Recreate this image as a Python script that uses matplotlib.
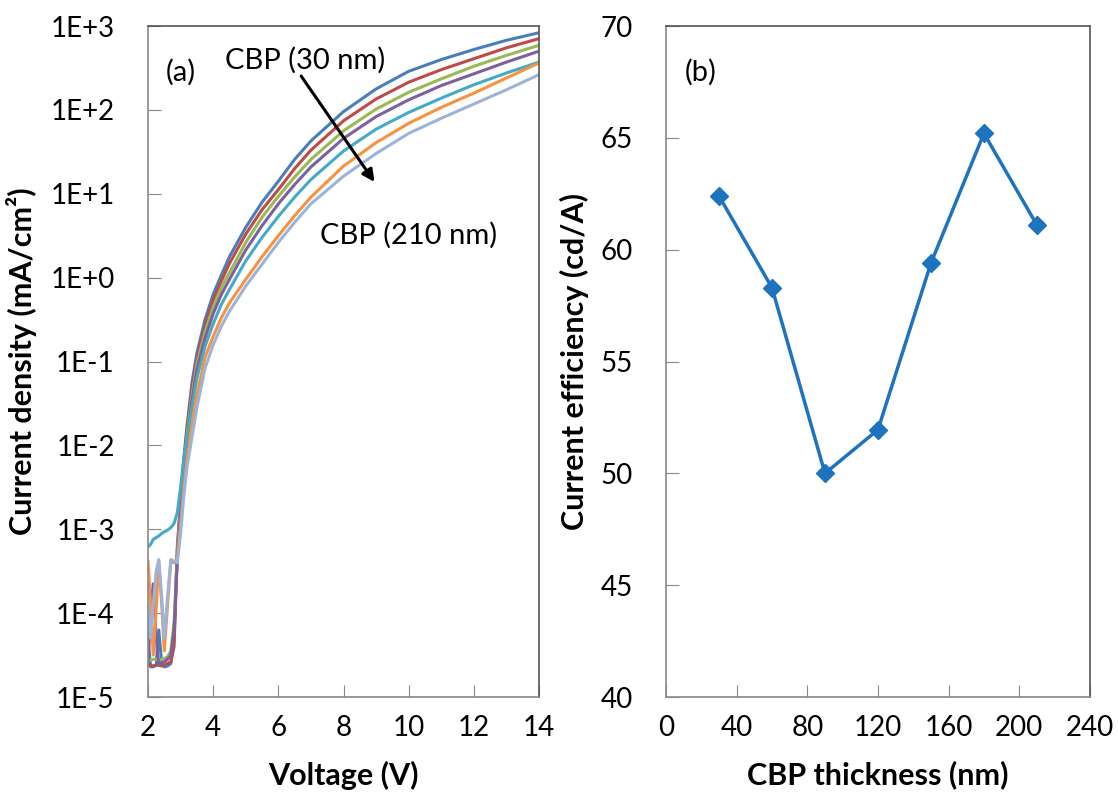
#plot of J-V curves for different CBP thickness and current efficiency vs thickness
import numpy as np
import matplotlib
matplotlib.use('Agg')
import matplotlib.pyplot as plt

plt.rcParams['font.family'] = ['Lato', 'DejaVu Sans']

#voltage points (V) for the leakage region and for the main part of the curves
v_noise = [2.0, 2.08, 2.16, 2.25, 2.33, 2.42, 2.5, 2.6, 2.7, 2.8]
v_main = [2.9, 3.0, 3.1, 3.2, 3.35, 3.5, 3.75, 4.0, 4.25, 4.5, 5.0, 5.5, 6.0, 6.5,
          7.0, 8.0, 9.0, 10.0, 11.0, 12.0, 13.0, 14.0]

#log10 of current density (mA/cm2)
j30_noise = [-4.3, -4.64, -4.64, -4.62, -4.2, -4.6, -4.64, -4.63, -4.6, -4.3]
j30_main = [-3.2, -2.65, -2.15, -1.75, -1.25, -0.9, -0.5, -0.2, 0.03, 0.25, 0.6, 0.9,
            1.15, 1.41, 1.63, 1.98, 2.25, 2.46, 2.6, 2.72, 2.83, 2.92]
j60_noise = [-4.62, -4.62, -4.63, -4.62, -4.62, -4.63, -4.62, -4.6, -4.58, -4.4]
j60_main = [-3.25, -2.7, -2.2, -1.82, -1.33, -0.97, -0.58, -0.27, -0.04, 0.17, 0.52, 0.81,
            1.05, 1.3, 1.52, 1.87, 2.13, 2.33, 2.48, 2.61, 2.74, 2.85]
j90_noise = [-4.55, -4.56, -4.55, -4.55, -4.56, -4.55, -4.54, -4.52, -4.45, -4.1]
j90_main = [-3.3, -2.75, -2.27, -1.88, -1.4, -1.03, -0.65, -0.35, -0.12, 0.06, 0.42, 0.72,
            0.97, 1.2, 1.41, 1.75, 2.01, 2.21, 2.37, 2.52, 2.65, 2.77]
j120_noise = [-4.6, -4.0, -3.65, -4.3, -4.62, -4.6, -4.58, -4.55, -4.5, -4.2]
j120_main = [-3.35, -2.8, -2.33, -1.95, -1.47, -1.1, -0.72, -0.43, -0.2, -0.02, 0.33, 0.62,
             0.88, 1.11, 1.32, 1.66, 1.92, 2.12, 2.29, 2.43, 2.57, 2.70]
j150_noise = [-3.21, -3.18, -3.12, -3.1, -3.08, -3.05, -3.03, -3.01, -2.98, -2.93]
j150_main = [-2.8, -2.5, -2.15, -1.9, -1.55, -1.2, -0.82, -0.55, -0.32, -0.14, 0.2, 0.48,
             0.73, 0.96, 1.17, 1.51, 1.77, 1.97, 2.14, 2.30, 2.44, 2.57]
j180_noise = [-3.38, -3.9, -4.5, -3.95, -3.38, -3.9, -4.45, -3.9, -3.38, -3.4]
j180_main = [-3.35, -2.95, -2.5, -2.15, -1.75, -1.4, -0.95, -0.7, -0.48, -0.3, -0.02, 0.25,
             0.5, 0.74, 0.96, 1.33, 1.61, 1.84, 2.03, 2.2, 2.38, 2.56]
j210_noise = [-3.9, -4.3, -3.9, -3.5, -3.36, -3.8, -4.3, -3.8, -3.36, -3.38]
j210_main = [-3.4, -3.05, -2.6, -2.25, -1.9, -1.55, -1.08, -0.8, -0.58, -0.4, -0.1, 0.16,
             0.42, 0.66, 0.88, 1.21, 1.48, 1.72, 1.90, 2.07, 2.24, 2.42]

#current efficiency vs CBP thickness
thickness = [30, 60, 90, 120, 150, 180, 210]
efficiency = [62.4, 58.3, 50.0, 51.95, 59.4, 65.2, 61.1]

ytick_vals = [1e-5, 1e-4, 1e-3, 1e-2, 1e-1, 1e0, 1e1, 1e2, 1e3]
ytick_text = ['1E-5', '1E-4', '1E-3', '1E-2', '1E-1', '1E+0', '1E+1', '1E+2', '1E+3']

curves = [(j30_noise, j30_main, '#4A7EBB'),
          (j60_noise, j60_main, '#BE4B48'),
          (j90_noise, j90_main, '#98B954'),
          (j120_noise, j120_main, '#7D60A0'),
          (j150_noise, j150_main, '#46AAC5'),
          (j180_noise, j180_main, '#F69240'),
          (j210_noise, j210_main, '#9DB4DA')]

fig = plt.figure(figsize=(11.18, 8.01), dpi=100)
ax1 = fig.add_axes([0.1324, 0.1298, 0.3497, 0.8377])
ax2 = fig.add_axes([0.5957, 0.1298, 0.3792, 0.8377])

#(a) J-V curves
for noise, main, col in curves:
    v = np.array(v_noise + v_main)
    j = 10 ** np.array(noise + main)
    ax1.plot(v, j, color=col, lw=2.2, solid_joinstyle='round')

ax1.set_yscale('log')
ax1.set_ylim(1e-5, 1e3)
ax1.set_xlim(2, 14)
ax1.set_yticks(ytick_vals, labels=ytick_text)
ax1.yaxis.set_minor_locator(matplotlib.ticker.NullLocator())
ax1.set_xticks([2, 4, 6, 8, 10, 12, 14])
ax1.set_xlabel('Voltage (V)', fontsize=22, fontweight='bold', labelpad=14)
ax1.set_ylabel('Current density (mA/cm²)', fontsize=22, fontweight='bold', labelpad=10)
ax1.tick_params(axis='y', direction='in', length=9, color='#888888', labelsize=20, pad=24)
ax1.tick_params(axis='x', direction='in', length=9, color='#888888', labelsize=20, pad=13)
ax1.text(0.045, 0.918, '(a)', transform=ax1.transAxes, fontsize=21)
ax1.text(0.198, 0.937, 'CBP (30 nm)', transform=ax1.transAxes, fontsize=21)
ax1.text(0.44, 0.675, 'CBP (210 nm)', transform=ax1.transAxes, fontsize=21)
ax1.annotate('', xy=(9.0, 13.0), xytext=(6.65, 270),
             arrowprops=dict(arrowstyle='-|>', color='black', lw=2.2, mutation_scale=18))

#(b) current efficiency
ax2.plot(thickness, efficiency, color='#1E73BE', lw=2.5, marker='D', markersize=9)
ax2.set_xlim(0, 240)
ax2.set_ylim(40, 70)
ax2.set_xticks([0, 40, 80, 120, 160, 200, 240])
ax2.set_yticks([40, 45, 50, 55, 60, 65, 70])
ax2.set_xlabel('CBP thickness (nm)', fontsize=22, fontweight='bold', labelpad=14)
ax2.set_ylabel('Current efficiency (cd/A)', fontsize=22, fontweight='bold', labelpad=8)
ax2.tick_params(axis='y', direction='in', length=9, color='#888888', labelsize=20, pad=24)
ax2.tick_params(axis='x', direction='in', length=9, color='#888888', labelsize=20, pad=13)
ax2.text(0.045, 0.918, '(b)', transform=ax2.transAxes, fontsize=21)

for ax in (ax1, ax2):
    for s in ['left', 'bottom']:
        ax.spines[s].set_color('#888888')
    for s in ['top', 'right']:
        ax.spines[s].set_color('#555555')
    for s in ax.spines.values():
        s.set_linewidth(1.2)

fig.savefig('out.png', dpi=100)
